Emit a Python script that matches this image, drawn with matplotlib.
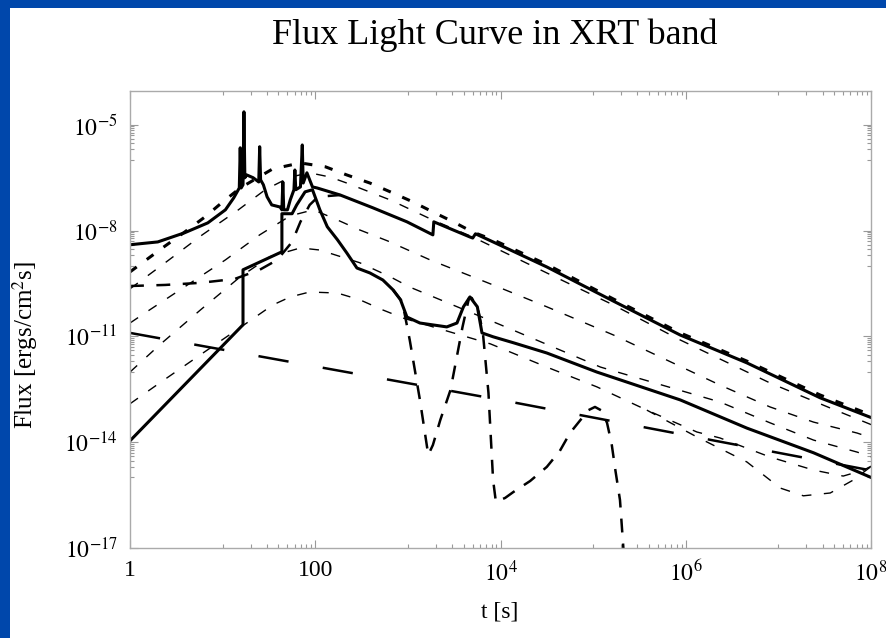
import numpy as np
import matplotlib
matplotlib.use("Agg")
import matplotlib.pyplot as plt
from matplotlib.ticker import FixedLocator, FixedFormatter, NullFormatter
from matplotlib.patches import Rectangle

plt.rcParams["font.family"] = ["Liberation Serif", "DejaVu Serif"]
plt.rcParams["mathtext.fontset"] = "stix"
plt.rcParams["lines.scale_dashes"] = False

BLUE = "#0047AB"

# all values as log10(t [s]) and log10(flux)
# total light curve, upper (thick solid, with flares)
a_lt = [0, 0.30, 0.59, 0.84, 1.03, 1.12, 1.18, 1.19, 1.20, 1.22, 1.23, 1.24, 1.26, 1.33, 1.39,
        1.40, 1.41, 1.44, 1.48, 1.53, 1.62, 1.64, 1.65, 1.66, 1.70, 1.73, 1.77, 1.78, 1.79,
        1.84, 1.86, 1.87, 1.91, 1.97, 2.02, 2.27, 2.62, 2.99, 3.27, 3.28, 3.67, 3.70, 3.73,
        3.92, 4.50, 5.22, 5.94, 6.66, 7.45, 8.01]
a_lf = [-8.40, -8.32, -8.06, -7.78, -7.41, -7.07, -6.79, -5.65, -6.79, -6.70, -4.63, -6.50,
        -6.42, -6.50, -6.62, -5.62, -6.56, -6.70, -7.04, -7.27, -7.33, -7.41, -6.62, -7.41,
        -7.41, -7.13, -6.84, -6.28, -6.84, -6.76, -5.57, -6.65, -6.36, -6.76, -6.79, -6.99,
        -7.35, -7.75, -8.12, -7.75, -8.18, -8.21, -8.09, -8.32, -9.03, -10.0, -10.96,
        -11.75, -12.74, -13.31]

# total light curve, lower (thick solid)
b_lt = [0, 1.22, 1.22, 1.64, 1.64, 1.75, 1.80, 1.89, 1.97, 2.05, 2.13, 2.24, 2.34, 2.45,
        2.59, 2.73, 2.84, 2.92, 2.99, 3.13, 3.42, 3.53, 3.60, 3.67, 3.75, 3.80, 3.92, 4.14,
        4.50, 5.04, 5.94, 6.66, 7.38, 8.01]
b_lf = [-13.96, -10.67, -9.11, -8.60, -7.52, -7.52, -7.27, -6.90, -6.84, -7.41, -7.89,
        -8.26, -8.63, -9.06, -9.20, -9.40, -9.68, -9.96, -10.45, -10.62, -10.73, -10.62,
        -10.16, -9.88, -10.16, -10.90, -11.01, -11.18, -11.47, -12.01, -12.80, -13.60,
        -14.30, -15.01]

# thick short-dashed component (top)
d_lt = [0, 0.35, 0.59, 0.81, 0.99, 1.19, 1.54, 1.84, 2.11, 2.34, 2.59, 2.81, 3.05, 3.27,
        3.49, 3.70, 3.92, 4.50, 5.22, 5.94, 6.66, 7.45, 8.01]
d_lf = [-9.17, -8.49, -8.04, -7.61, -7.21, -6.79, -6.25, -6.08, -6.19, -6.42, -6.65, -6.90,
        -7.18, -7.47, -7.75, -8.04, -8.26, -8.96, -9.94, -10.90, -11.70, -12.66, -13.24]

# thick dashed component, flat then rising into the peak
f_lt = [0, 0.38, 0.76, 1.13, 1.40, 1.59, 1.75, 1.84, 1.94, 2.03, 2.27]
f_lf = [-9.57, -9.54, -9.48, -9.37, -9.11, -8.83, -8.32, -7.75, -7.27, -7.04, -6.99]

# thick dashed component with the two dips
e_lt = [2.84, 2.94, 3.02, 3.13, 3.22, 3.27, 3.35, 3.46, 3.59, 3.66, 3.69, 3.76, 3.81, 3.87,
        3.92, 3.95, 4.05, 4.14, 4.32, 4.50, 4.64, 4.75, 4.86, 4.95, 5.02, 5.09, 5.15, 5.20,
        5.24, 5.29, 5.34]
e_lf = [-9.68, -10.02, -11.10, -12.80, -14.36, -14.08, -13.37, -12.52, -10.73, -9.91,
        -9.91, -10.25, -10.90, -12.60, -15.07, -15.69, -15.58, -15.41, -15.10, -14.70,
        -14.25, -13.74, -13.38, -13.09, -13.0, -13.10, -13.45, -14.05, -14.79, -15.64, -17.5]

# long-dashed component
h_lt = [0, 2, 4, 6, 8]
h_lf = [-10.90, -11.85, -12.80, -13.80, -14.80]

# thin dashed afterglow curves
g1_lt = [0, 0.38, 0.78, 1.17, 1.46, 1.73, 1.94, 2.16, 2.34, 2.81, 3.27, 3.70, 4.50, 5.22,
         5.94, 6.91, 7.56, 8.01]
g1_lf = [-9.65, -8.91, -8.12, -7.41, -6.84, -6.48, -6.36, -6.48, -6.65, -7.13, -7.70,
         -8.18, -9.20, -10.11, -11.10, -12.32, -13.03, -13.51]
g2_lt = [0, 0.13, 0.54, 1.03, 1.40, 1.73, 1.98, 2.19, 2.48, 2.78, 3.24, 3.92, 4.50, 5.22,
         6.37, 6.91, 7.38, 7.85, 8.01]
g2_lf = [-10.62, -10.39, -9.68, -8.83, -8.12, -7.58, -7.41, -7.64, -7.98, -8.29, -8.83,
         -9.54, -10.16, -10.96, -12.38, -13.0, -13.43, -13.74, -13.88]
g3_lt = [0, 0.32, 0.76, 1.19, 1.51, 1.84, 2.05, 2.48, 2.81, 3.02, 4.0, 5.08, 6.37, 6.91,
         7.38, 7.85, 8.01]
g3_lf = [-12.01, -11.24, -10.25, -9.31, -8.74, -8.49, -8.55, -8.91, -9.31, -9.60, -10.67,
         -11.87, -12.86, -13.45, -13.94, -14.28, -14.42]
g4_lt = [0, 0.32, 0.76, 1.26, 1.54, 1.73, 1.94, 2.24, 2.48, 2.73, 2.95, 3.89, 4.50, 5.04,
         5.58, 6.12, 6.37, 6.91, 7.38, 7.70, 7.92, 8.01]
g4_lf = [-12.91, -12.32, -11.52, -10.62, -10.11, -9.88, -9.74, -9.77, -9.96, -10.25,
         -10.48, -11.21, -11.87, -12.43, -13.09, -13.71, -13.88, -14.42, -14.79, -14.96,
         -14.79, -14.67]
g5_lt = [5.58, 6.12, 6.66, 7.02, 7.27, 7.56, 7.81, 8.01]
g5_lf = [-13.09, -13.85, -14.56, -15.30, -15.52, -15.44, -15.07, -14.67]

x_major = [1, 1e2, 1e4, 1e6, 1e8]
x_labels = ["1", "100", "$10^{4}$", "$10^{6}$", "$10^{8}$"]
y_major = [1e-17, 1e-14, 1e-11, 1e-8, 1e-5]
y_labels = ["$10^{-17}$", "$10^{-14}$", "$10^{-11}$", "$10^{-8}$", "$10^{-5}$"]


def curve(ax, lt, lf, **kw):
    ax.plot(10.0 ** np.asarray(lt), 10.0 ** np.asarray(lf), color="black", **kw)


fig = plt.figure(figsize=(8.86, 6.38), dpi=100)
fig.patch.set_facecolor("white")
# slide background: blue strips on the left and top
fig.add_artist(Rectangle((0, 0), 10 / 886, 1, transform=fig.transFigure, fc=BLUE, ec="none"))
fig.add_artist(Rectangle((0, 1 - 8 / 638), 1, 8 / 638, transform=fig.transFigure, fc=BLUE, ec="none"))

ax = fig.add_axes([130 / 886, 1 - 548 / 638, 741 / 886, 457 / 638])
ax.set_xscale("log")
ax.set_yscale("log")

thin = dict(lw=1.0, dashes=(7, 9))
for lt, lf in [(g1_lt, g1_lf), (g2_lt, g2_lf), (g3_lt, g3_lf), (g4_lt, g4_lf), (g5_lt, g5_lf)]:
    curve(ax, lt, lf, **thin)
curve(ax, h_lt, h_lf, lw=1.8, dashes=(22, 25))
curve(ax, f_lt, f_lf, lw=1.8, dashes=(10, 9))
curve(ax, e_lt, e_lf, lw=1.8, dashes=(10, 8))
curve(ax, d_lt, d_lf, lw=2.2, dashes=(6, 9))
curve(ax, b_lt, b_lf, lw=2.2)
curve(ax, a_lt, a_lf, lw=2.2)

ax.set_xlim(1, 1e8)
ax.set_ylim(1e-17, 10 ** -4.04)

ax.xaxis.set_major_locator(FixedLocator(x_major))
ax.xaxis.set_major_formatter(FixedFormatter(x_labels))
ax.xaxis.set_minor_locator(FixedLocator([m * v / 10 for v in x_major[1:] for m in range(1, 10)]))
ax.xaxis.set_minor_formatter(NullFormatter())
ax.yaxis.set_major_locator(FixedLocator(y_major))
ax.yaxis.set_major_formatter(FixedFormatter(y_labels))
ax.yaxis.set_minor_locator(FixedLocator([m * v / 10 for v in y_major[1:] for m in range(1, 10)]))
ax.yaxis.set_minor_formatter(NullFormatter())

ax.tick_params(which="both", direction="in", top=True, right=True, color="#999999", width=0.8)
ax.tick_params(which="major", length=6, labelsize=17, pad=9)
ax.tick_params(which="minor", length=3)
for s in ax.spines.values():
    s.set_color("#aaaaaa")
    s.set_linewidth(1.0)

fig.text(495 / 886, 1 - 35 / 638, "Flux Light Curve in XRT band", ha="center", va="center", fontsize=26)
fig.text(25 / 886, 1 - 345 / 638, "Flux [ergs/cm$^2$s]", ha="center", va="center",
         rotation=90, fontsize=18)
fig.text(500 / 886, 1 - 612 / 638, "t [s]", ha="center", va="center", fontsize=17)

fig.savefig("out.png", dpi=100)
